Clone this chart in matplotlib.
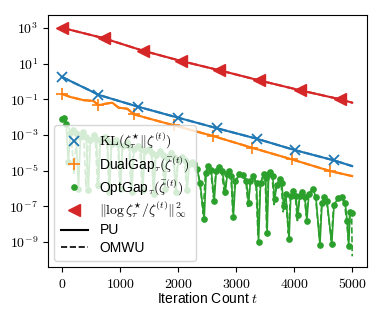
import numpy as np
import matplotlib
matplotlib.use("Agg")
import matplotlib.pyplot as plt
from matplotlib.lines import Line2D
from matplotlib.ticker import FixedLocator, FuncFormatter, NullLocator

plt.rcParams['font.family'] = ['Liberation Sans', 'DejaVu Sans']
plt.rcParams['mathtext.fontset'] = 'cm'
plt.rcParams['font.size'] = 10

# ---------------- data (values as log10) ----------------
kl_t = [0, 225, 450, 625, 1302, 1996, 2674, 3351, 4010, 4688, 5000]
kl_log10 = [0.26, -0.10, -0.45, -0.74, -1.40, -2.02, -2.62, -3.20, -3.84, -4.42, -4.74]
kl_marks = [0, 3, 4, 5, 6, 7, 8, 9]

dg_t = [0, 139, 370, 538, 625, 746, 863, 972, 1123, 1233, 1528, 1927, 2599, 3264, 3958, 4623, 5000]
dg_log10 = [-0.69, -0.86, -1.04, -1.08, -1.32, -1.24, -1.18, -1.46, -1.52, -1.83, -2.10, -2.45,
            -3.05, -3.70, -4.36, -5.02, -5.30]
dg_marks = [0, 4, 9, 11, 12, 13, 14, 15]

lg_t = [0, 712, 1389, 2049, 2708, 3385, 4097, 4792, 5000]
lg_log10 = [3.02, 2.44, 1.74, 1.16, 0.64, 0.08, -0.48, -0.99, -1.18]
lg_marks = [0, 1, 2, 3, 4, 5, 6, 7]

og_pu_t = [0, 35, 70, 105,
           140, 190, 240, 280, 315, 365, 415, 450, 485, 540, 590, 625,
           660, 730, 780, 815, 850, 920, 970, 1005, 1040, 1110, 1160, 1200,
           1235, 1300, 1355, 1390, 1425, 1495, 1545, 1580, 1615, 1685, 1735, 1770,
           1805, 1875, 1925, 1960, 2000, 2065, 2120, 2155, 2190, 2240,
           2274, 2326, 2378, 2448, 2482, 2517, 2569, 2621, 2656, 2708, 2760, 2812,
           2847, 2882, 2916, 2951, 2986, 3055, 3125, 3177, 3212, 3246, 3298, 3350,
           3385, 3420, 3472, 3507, 3533, 3559, 3585, 3628, 3663, 3698, 3750, 3785,
           3819, 3854, 3911, 3941, 3976, 4028, 4062, 4097, 4132, 4184, 4218, 4253,
           4322, 4375, 4444, 4479, 4514, 4566, 4647, 4687, 4757, 4826, 4878, 4913,
           4939, 4965, 5000]
og_pu_log10 = [-2.10, -2.05, -2.40, -4.50,
               -2.90, -2.70, -2.90, -6.00, -3.10, -2.85, -3.10, -6.10, -3.30, -3.00, -3.20, -5.80,
               -3.30, -3.10, -3.30, -6.20, -3.50, -3.30, -3.50, -6.00, -3.60, -3.40, -3.60, -6.20,
               -3.80, -3.60, -3.80, -6.10, -3.90, -3.80, -4.00, -6.30, -4.10, -3.90, -4.10, -6.00,
               -4.20, -4.00, -4.20, -6.20, -4.40, -4.20, -4.40, -6.10, -4.60, -4.50,
               -4.64, -4.90, -5.70, -7.73, -5.10, -4.74, -4.95, -6.70, -5.00, -4.80, -5.00, -6.20,
               -5.20, -5.00, -5.30, -7.60, -5.60, -5.20, -5.25, -5.60, -6.80, -5.60, -5.30, -5.70,
               -9.00, -5.70, -5.20, -5.40, -8.50, -5.20, -5.05, -5.30, -6.60, -5.80, -5.45, -5.70,
               -7.00, -6.30, -8.85, -6.40, -6.15, -6.40, -7.50, -6.40, -6.20, -6.50, -7.80, -6.30,
               -6.00, -6.50, -9.17, -6.80, -6.50, -6.70, -9.13, -6.90, -6.55, -6.50, -6.80, -7.80,
               -9.20, -7.30, -7.36]

og_om_t = [0, 40, 155, 200,
           250, 320, 370, 410, 450, 520, 570, 610, 650, 720, 770, 805,
           845, 910, 960, 995, 1035, 1100, 1150, 1185, 1225, 1290, 1340, 1380,
           1415, 1485, 1535, 1570, 1605, 1675, 1725, 1760, 1795, 1865, 1915, 1950,
           1990, 2055, 2110, 2145, 2185, 2260, 2320, 2370, 2430,
           2470, 2510, 2560, 2610, 2650, 2700, 2750, 2800,
           2840, 2875, 2910, 2940, 2980, 3050, 3120, 3170, 3205,
           3240, 3290, 3340, 3375, 3415, 3465, 3500, 3525,
           3555, 3580, 3620, 3655, 3690, 3745, 3775, 3810,
           3850, 3900, 3935, 3970, 4020, 4055, 4090, 4125, 4175, 4210,
           4245, 4315, 4370, 4435, 4475, 4510, 4560, 4640,
           4680, 4750, 4820, 4870, 4905, 4935, 4960, 4990, 5000]
og_om_log10 = [-2.10, -2.08, -2.90, -5.20,
               -3.00, -2.85, -3.05, -5.90, -3.20, -3.00, -3.20, -6.00, -3.30, -3.15, -3.35, -5.90,
               -3.50, -3.30, -3.50, -6.10, -3.60, -3.45, -3.65, -6.00, -3.80, -3.60, -3.80, -6.20,
               -3.95, -3.80, -4.00, -6.10, -4.10, -3.95, -4.15, -6.20, -4.25, -4.05, -4.25, -6.00,
               -4.45, -4.25, -4.45, -6.20, -4.65, -4.60, -4.85, -5.60, -7.40,
               -5.10, -4.80, -5.00, -6.50, -5.05, -4.85, -5.05, -6.40,
               -5.25, -5.05, -5.35, -7.30, -5.60, -5.25, -5.30, -5.65, -7.00,
               -5.65, -5.35, -5.75, -8.60, -5.75, -5.25, -5.45, -8.20,
               -5.25, -5.10, -5.35, -6.90, -5.85, -5.50, -5.75, -7.30,
               -6.35, -8.50, -6.45, -6.20, -6.45, -7.80, -6.45, -6.25, -6.55, -7.50,
               -6.35, -6.05, -6.55, -8.80, -6.85, -6.55, -6.75, -8.90,
               -6.95, -6.60, -6.55, -6.85, -7.90, -8.90, -7.20, -7.40, -9.80]

labels = [r'$\mathrm{KL}(\zeta_\tau^{\star}\|\zeta^{(t)})$',
          r'DualGap$_\tau(\bar\zeta^{(t)})$',
          r'OptGap$_\tau(\bar\zeta^{(t)})$',
          r'$\|\log\zeta_\tau^{\star}/\zeta^{(t)}\|_\infty^2$',
          'PU', 'OMWU']
x_ticks = [0, 1000, 2000, 3000, 4000, 5000]
y_tick_exps = [3, 1, -1, -3, -5, -7, -9]

C_BLUE, C_ORANGE, C_GREEN, C_RED = '#1f77b4', '#ff7f0e', '#2ca02c', '#d62728'

fig = plt.figure(figsize=(3.82, 3.19), dpi=100)
ax = fig.add_axes([48/382, 1 - 267/319, (367 - 48)/382, (267 - 15)/319])


def pw(v):
    return 10.0 ** np.asarray(v)


# green
ax.plot(og_om_t, pw(og_om_log10), color=C_GREEN, lw=1.2, ls='--')
ax.plot(og_pu_t, pw(og_pu_log10), color=C_GREEN, lw=1.2, ls='-', marker='o', ms=3.8)
# orange
ax.plot(dg_t, pw(dg_log10), color=C_ORANGE, lw=1.5, marker='+', ms=8, mew=1.2, markevery=dg_marks)
ax.plot(dg_t, pw(dg_log10), color=C_ORANGE, lw=1.5, ls='--')
# blue
ax.plot(kl_t, pw(kl_log10), color=C_BLUE, lw=1.5, marker='x', ms=7, mew=1.3, markevery=kl_marks)
ax.plot(kl_t, pw(kl_log10), color=C_BLUE, lw=1.5, ls='--')
# red
ax.plot(lg_t, pw(lg_log10), color=C_RED, lw=1.5, marker='<', ms=8, markevery=lg_marks)
ax.plot(lg_t, pw(lg_log10), color=C_RED, lw=1.5, ls='--')

ax.set_yscale('log')
ax.set_xlim(-245, 5255)
ax.set_ylim(10 ** -10.4, 10 ** 3.74)
ax.xaxis.set_major_locator(FixedLocator(x_ticks))
ax.xaxis.set_major_formatter(FuncFormatter(lambda v, p: r'$%d$' % int(round(v))))
ax.yaxis.set_major_locator(FixedLocator([10.0 ** e for e in y_tick_exps]))
ax.yaxis.set_major_formatter(FuncFormatter(lambda v, p: r'$10^{%d}$' % int(round(np.log10(v)))))
ax.yaxis.set_minor_locator(NullLocator())
ax.tick_params(labelsize=10)
ax.set_xlabel(r'Iteration Count $t$', fontsize=10, labelpad=0)

handles = [Line2D([], [], color=C_BLUE, marker='x', ls='none', ms=7, mew=1.3),
           Line2D([], [], color=C_ORANGE, marker='+', ls='none', ms=8, mew=1.2),
           Line2D([], [], color=C_GREEN, marker='o', ls='none', ms=3.8),
           Line2D([], [], color=C_RED, marker='<', ls='none', ms=8),
           Line2D([], [], color='black', ls='-', lw=1.5),
           Line2D([], [], color='black', ls='--', lw=1.2)]
ax.legend(handles, labels, loc='lower left', fontsize=10, borderaxespad=0.45,
          labelspacing=0.22, handletextpad=0.8, borderpad=0.45)

fig.savefig('out.png', dpi=100)
